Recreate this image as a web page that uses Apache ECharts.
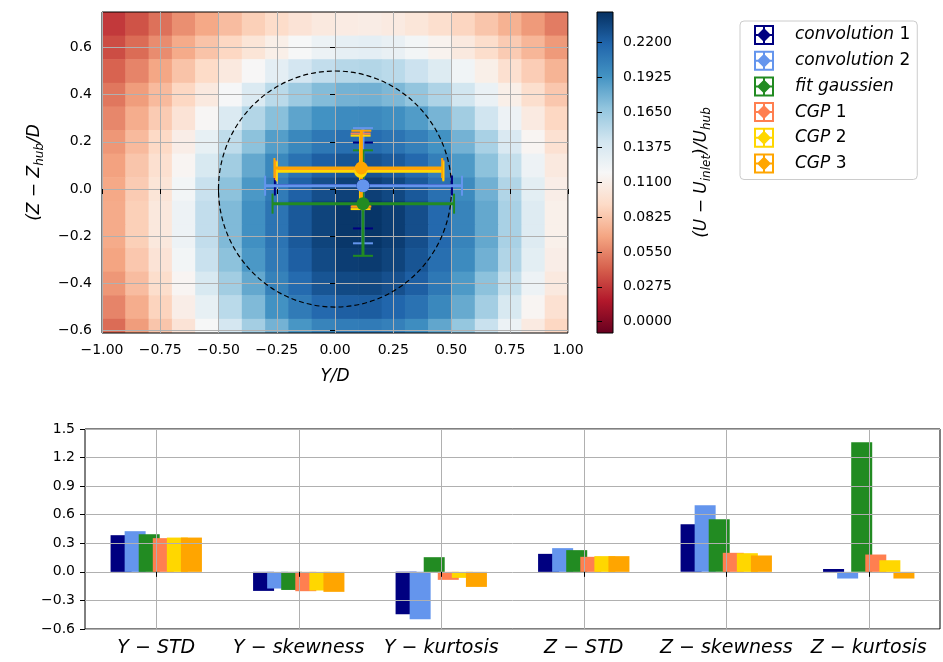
<!DOCTYPE html>
<html><head><meta charset="utf-8">
<script src="https://cdn.jsdelivr.net/npm/echarts@6/dist/echarts.min.js"></script>
<style>html,body{margin:0;padding:0;background:#fff}#c{width:943px;height:662px}</style>
</head><body><div id="c"></div>
<script>
const FONT = 'DejaVu Sans';

// ---- top panel: wake deficit field (cell centres) ----
const cellX = [-0.95,-0.85,-0.75,-0.65,-0.55,-0.45,-0.35,-0.25,-0.15,-0.05,0.05,0.15,0.25,0.35,0.45,0.55,0.65,0.75,0.85,0.95];
const cellZ = [0.7,0.6,0.5,0.4,0.3,0.2,0.1,0.0,-0.1,-0.2,-0.3,-0.4,-0.5,-0.6];
const deficit = [
 [0.028,0.037,0.048,0.059,0.069,0.078,0.087,0.094,0.100,0.105,0.107,0.108,0.106,0.102,0.096,0.090,0.082,0.073,0.063,0.052],
 [0.035,0.046,0.058,0.070,0.081,0.091,0.101,0.110,0.118,0.125,0.129,0.130,0.127,0.121,0.113,0.105,0.095,0.085,0.075,0.063],
 [0.043,0.055,0.068,0.081,0.093,0.105,0.117,0.130,0.141,0.149,0.154,0.155,0.152,0.145,0.135,0.122,0.110,0.097,0.086,0.074],
 [0.050,0.064,0.077,0.091,0.105,0.119,0.136,0.152,0.164,0.173,0.178,0.179,0.175,0.168,0.157,0.142,0.126,0.110,0.096,0.083],
 [0.056,0.071,0.085,0.100,0.116,0.136,0.155,0.171,0.185,0.194,0.198,0.199,0.196,0.189,0.177,0.162,0.143,0.124,0.106,0.091],
 [0.062,0.077,0.092,0.109,0.128,0.150,0.170,0.188,0.200,0.209,0.214,0.215,0.211,0.204,0.194,0.178,0.159,0.137,0.115,0.098],
 [0.066,0.082,0.097,0.115,0.138,0.162,0.183,0.200,0.212,0.222,0.227,0.228,0.224,0.217,0.205,0.190,0.170,0.148,0.124,0.105],
 [0.069,0.085,0.101,0.121,0.146,0.170,0.191,0.207,0.221,0.230,0.236,0.237,0.233,0.225,0.213,0.198,0.179,0.156,0.131,0.109],
 [0.070,0.087,0.104,0.124,0.149,0.174,0.195,0.211,0.225,0.235,0.241,0.242,0.238,0.230,0.217,0.202,0.183,0.159,0.134,0.111],
 [0.070,0.087,0.104,0.124,0.149,0.174,0.195,0.211,0.225,0.235,0.241,0.242,0.238,0.230,0.217,0.202,0.183,0.159,0.134,0.111],
 [0.067,0.083,0.100,0.121,0.146,0.170,0.191,0.208,0.222,0.232,0.238,0.239,0.235,0.227,0.214,0.198,0.179,0.156,0.131,0.109],
 [0.062,0.078,0.095,0.115,0.138,0.162,0.183,0.203,0.216,0.227,0.232,0.233,0.229,0.222,0.209,0.190,0.170,0.148,0.124,0.105],
 [0.055,0.071,0.089,0.109,0.128,0.152,0.174,0.194,0.207,0.217,0.222,0.223,0.219,0.212,0.200,0.182,0.161,0.138,0.115,0.098],
 [0.046,0.064,0.082,0.100,0.118,0.140,0.161,0.178,0.192,0.202,0.206,0.207,0.204,0.197,0.184,0.167,0.146,0.125,0.106,0.091]
];
const colorRange = [-0.0089, 0.2442];
const colorbarTicks = [0, 0.0275, 0.055, 0.0825, 0.11, 0.1375, 0.165, 0.1925, 0.22];
const rdbu = ['#67001f','#b2182b','#d6604d','#f4a582','#fddbc7','#f7f7f7','#d1e5f0','#92c5de','#4393c3','#2166ac','#053061'];
const topYTicks = [-0.6,-0.4,-0.2,0,0.2,0.4,0.6];
const rotorCircle = [0, 0, 0.5]; // centre Y/D, centre Z/D, radius

// ---- wake-centre estimates with error bars ----
const methods = ['convolution 1','convolution 2','fit gaussien','CGP 1','CGP 2','CGP 3'];
const methodColors = ['#000080','#6495ed','#228b22','#ff7f50','#ffd700','#ffa500'];
const centreY = [0.12, 0.12, 0.12, 0.11, 0.11, 0.113];
const centreZ = [0.015, 0.014, -0.062, 0.08, 0.075, 0.089];
const yLow  = [-0.258, -0.30, -0.268, -0.255, -0.25, -0.26];
const yHigh = [0.502, 0.545, 0.511, 0.465, 0.465, 0.46];
const zLow  = [-0.167, -0.23, -0.283, -0.075, -0.085, -0.074];
const zHigh = [0.197, 0.258, 0.164, 0.235, 0.226, 0.247];

// ---- bottom panel: statistics ----
const barCategories = ['Y − STD','Y − skewness','Y − kurtosis','Z − STD','Z − skewness','Z − kurtosis'];
const barConv1 = [0.385, -0.200, -0.445, 0.189, 0.500, 0.030];
const barConv2 = [0.427, -0.175, -0.497, 0.249, 0.700, -0.070];
const barFit   = [0.395, -0.190, 0.154, 0.228, 0.553, 1.360];
const barCGP1  = [0.354, -0.203, -0.084, 0.158, 0.200, 0.182];
const barCGP2  = [0.360, -0.196, -0.063, 0.165, 0.196, 0.122];
const barCGP3  = [0.360, -0.210, -0.158, 0.165, 0.172, -0.070];
const barSets = [barConv1, barConv2, barFit, barCGP1, barCGP2, barCGP3];

const minus = s => s.replace('-', '\u2212');
const halfW = (cellX[1] - cellX[0]) / 2;
const halfH = (cellZ[0] - cellZ[1]) / 2;

const heatData = [];
cellZ.forEach((z, i) => cellX.forEach((x, j) => heatData.push([x, z, deficit[i][j]])));

const axisTxt = {fontFamily: FONT, fontSize: 14, color: '#000'};
const richName = {
  i: {fontFamily: FONT, fontStyle: 'italic', fontSize: 17, color: '#000', lineHeight: 22},
  s: {fontFamily: FONT, fontStyle: 'italic', fontSize: 12, color: '#000', lineHeight: 12, verticalAlign: 'bottom'}
};
const gridLine = {show: true, lineStyle: {color: '#b0b0b0', width: 1}};
const tick = {show: true, length: 5, lineStyle: {color: '#000', width: 1}};

const series = [];
series.push({
  type: 'custom', name: 'field', coordinateSystem: 'cartesian2d', xAxisIndex: 0, yAxisIndex: 0,
  data: heatData, encode: {x: 0, y: 1}, z: 1, clip: true, silent: true,
  renderItem: (params, api) => {
    const x = api.value(0), z = api.value(1);
    const p0 = api.coord([x - halfW, z + halfH]);
    const p1 = api.coord([x + halfW, z - halfH]);
    return {type: 'rect', shape: {x: p0[0], y: p0[1], width: p1[0] - p0[0] + 0.6, height: p1[1] - p0[1] + 0.6},
      style: {fill: api.visual('color')}};
  }
});
series.push({
  type: 'custom', name: 'rotor', coordinateSystem: 'cartesian2d', xAxisIndex: 0, yAxisIndex: 0,
  data: [rotorCircle], encode: {x: 0, y: 1}, z: 9, silent: true,
  renderItem: (params, api) => {
    const c = api.coord([api.value(0), api.value(1)]);
    const rx = api.coord([api.value(0) + api.value(2), api.value(1)])[0] - c[0];
    const ry = c[1] - api.coord([api.value(0), api.value(1) + api.value(2)])[1];
    return {type: 'ellipse', shape: {cx: c[0], cy: c[1], rx: rx, ry: ry},
      style: {fill: null, stroke: '#000', lineWidth: 1.2, lineDash: [5, 3]}};
  }
});
methods.forEach((m, k) => {
  series.push({
    type: 'custom', name: m, coordinateSystem: 'cartesian2d', xAxisIndex: 0, yAxisIndex: 0,
    itemStyle: {color: methodColors[k]}, z: 10,
    data: [[centreY[k], centreZ[k], yLow[k], yHigh[k], zLow[k], zHigh[k]]], encode: {x: 0, y: 1},
    renderItem: (params, api) => {
      const yc = api.value(0), zc = api.value(1);
      const a = api.coord([api.value(2), zc]), b = api.coord([api.value(3), zc]);
      const c = api.coord([yc, api.value(4)]), d = api.coord([yc, api.value(5)]);
      const m0 = api.coord([yc, zc]);
      const col = api.visual('color');
      const cap = 10, lw = 3, cw = 2;
      const L = (x1, y1, x2, y2, w) => ({type: 'line', shape: {x1, y1, x2, y2}, style: {stroke: col, lineWidth: w}});
      return {type: 'group', children: [
        L(a[0], a[1], b[0], b[1], lw),
        L(c[0], c[1], d[0], d[1], lw),
        L(a[0], a[1] - cap, a[0], a[1] + cap, cw),
        L(b[0], b[1] - cap, b[0], b[1] + cap, cw),
        L(c[0] - cap, c[1], c[0] + cap, c[1], cw),
        L(d[0] - cap, d[1], d[0] + cap, d[1], cw),
        {type: 'circle', z2: 100, shape: {cx: m0[0], cy: m0[1], r: 6.5}, style: {fill: col}}
      ]};
    }
  });
});
// colorbar
series.push({
  type: 'custom', name: 'colorbar', coordinateSystem: 'cartesian2d', xAxisIndex: 1, yAxisIndex: 1,
  data: [[0, colorRange[0], 1, colorRange[1]]], encode: {x: 0, y: 1}, silent: true, z: 2,
  renderItem: (params, api) => {
    const p0 = api.coord([api.value(0), api.value(3)]);
    const p1 = api.coord([api.value(2), api.value(1)]);
    const stops = rdbu.map((c, i) => ({offset: i / (rdbu.length - 1), color: c}));
    return {type: 'rect', shape: {x: p0[0], y: p0[1], width: p1[0] - p0[0], height: p1[1] - p0[1]},
      style: {fill: new echarts.graphic.LinearGradient(0, 1, 0, 0, stops)}};
  }
});
// bars
barSets.forEach((vals, k) => {
  series.push({
    type: 'bar', name: methods[k], xAxisIndex: 2, yAxisIndex: 2, data: vals,
    barWidth: 21, barGap: '-33%', itemStyle: {color: methodColors[k]}, z: 2, silent: true
  });
});

const iconPath = 'path://M0,0H2V20H0Z M18,0H20V20H18Z M0,0H20V2H0Z M0,18H20V20H0Z M0,9H20V11H0Z M9,0H11V20H9Z M10,3L17,10L10,17L3,10Z';

const option = {
  animation: false,
  backgroundColor: '#fff',
  grid: [
    {left: 102, top: 12, width: 466, height: 321, show: true, borderColor: '#000', borderWidth: 1, backgroundColor: 'transparent', z: 3},
    {left: 597, top: 12, width: 16, height: 321, show: true, borderColor: '#000', borderWidth: 1, backgroundColor: 'transparent', z: 3},
    {left: 85, top: 429, width: 855, height: 200, show: true, borderColor: '#000', borderWidth: 1, backgroundColor: 'transparent', z: 3}
  ],
  visualMap: {type: 'continuous', show: false, seriesIndex: 0, dimension: 2,
    min: colorRange[0], max: colorRange[1], inRange: {color: rdbu}},
  legend: {
    orient: 'vertical', left: 740, top: 21, itemWidth: 20, itemHeight: 20, itemGap: 5.7,
    padding: [4, 7, 6, 14], backgroundColor: 'rgba(255,255,255,0.8)', borderColor: '#cccccc',
    borderWidth: 1, borderRadius: 4, selectedMode: false,
    data: methods.map((m, k) => ({name: m, icon: iconPath, itemStyle: {color: methodColors[k]}})),
    formatter: n => { const r = n.match(/^(.*?)( \d+)?$/); return '{i|' + r[1] + '}' + (r[2] || ''); },
    textStyle: {fontFamily: FONT, fontSize: 17, color: '#000', padding: [0, 0, 0, 16],
      rich: {i: {fontFamily: FONT, fontStyle: 'italic', fontSize: 17, color: '#000'}}}
  },
  xAxis: [
    {gridIndex: 0, type: 'value', min: -1, max: 1, interval: 0.25, z: 3,
      axisLine: {show: false}, axisTick: tick, splitLine: gridLine,
      axisLabel: Object.assign({margin: 10, formatter: v => minus(v.toFixed(2))}, axisTxt),
      name: '{i|Y/D}', nameLocation: 'middle', nameGap: 33, nameTextStyle: {rich: richName}},
    {gridIndex: 1, type: 'value', min: 0, max: 1, show: false},
    {gridIndex: 2, type: 'category', data: barCategories, z: 3,
      axisLine: {show: false}, axisTick: Object.assign({alignWithLabel: true}, tick),
      splitLine: Object.assign({alignWithLabel: true}, gridLine),
      axisLabel: {margin: 10, interval: 0, formatter: v => '{i|' + v + '}',
        rich: {i: {fontFamily: FONT, fontStyle: 'italic', fontSize: 19, color: '#000'}}}}
  ],
  yAxis: [
    {gridIndex: 0, type: 'value', min: -0.61, max: 0.75, z: 3,
      axisLine: {show: false}, axisTick: Object.assign({customValues: topYTicks}, tick), splitLine: gridLine,
      axisLabel: Object.assign({margin: 10, customValues: topYTicks, formatter: v => minus(v.toFixed(1))}, axisTxt),
      name: '{i|(Z − Z}{s|hub}{i|/D}', nameLocation: 'middle', nameGap: 56, nameTextStyle: {rich: richName}},
    {gridIndex: 1, type: 'value', min: colorRange[0], max: colorRange[1], position: 'right', z: 3,
      axisLine: {show: false}, axisTick: Object.assign({customValues: colorbarTicks}, tick), splitLine: {show: false},
      axisLabel: Object.assign({margin: 10, customValues: colorbarTicks, formatter: v => v.toFixed(4)}, axisTxt),
      name: '{i|(U − U}{s|inlet}{i|)/U}{s|hub}', nameLocation: 'middle', nameGap: 78, nameRotate: 90,
      nameTextStyle: {rich: richName}},
    {gridIndex: 2, type: 'value', min: -0.6, max: 1.5, interval: 0.3, z: 3,
      axisLine: {show: false}, axisTick: tick, splitLine: gridLine,
      axisLabel: Object.assign({margin: 10, formatter: v => minus(v.toFixed(1))}, axisTxt)}
  ],
  series: series
};
const chart = echarts.init(document.getElementById('c'), null, {renderer: 'canvas'});
chart.setOption(option);
</script></body></html>
